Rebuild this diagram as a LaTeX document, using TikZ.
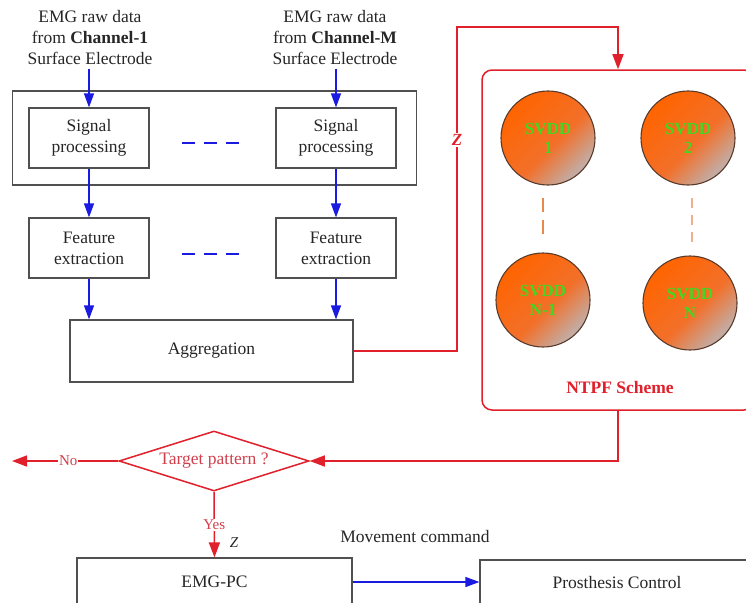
\documentclass[tikz,border=0pt]{standalone}
\usepackage{fontspec}
\setmainfont{Liberation Serif}
\usetikzlibrary{arrows.meta,shapes.geometric}
\definecolor{boxgray}{HTML}{505050}
\definecolor{myred}{HTML}{E0202A}
\definecolor{myblue}{HTML}{1A1AE0}
\definecolor{pinkred}{HTML}{D0404C}
\definecolor{svddgreen}{HTML}{44D622}
\definecolor{orng}{HTML}{FF6400}
\definecolor{orngmid}{HTML}{F2702A}
\definecolor{mytan}{HTML}{C4AAA0}
\definecolor{circedge}{HTML}{5A3A2A}
\definecolor{dashor}{HTML}{E8884A}
\definecolor{dashorl}{HTML}{F0B090}
\pgfdeclareverticalshading{svddshade}{100bp}{color(0bp)=(mytan); color(27bp)=(mytan); color(45bp)=(orngmid); color(75bp)=(orng); color(100bp)=(orng)}
\begin{document}
\begin{tikzpicture}[x=1pt,y=-1pt,
  font=\fontsize{17.5}{21}\selectfont, text=black!85,
  box/.style={draw=boxgray, line width=1.2pt, align=center, inner sep=0pt},
  bluearrow/.style={draw=myblue, line width=1.3pt, -{Triangle[length=14pt,width=10pt]}},
  redline/.style={draw=myred, line width=1.5pt},
  redarrow/.style={redline, -{Triangle[length=15pt,width=11pt]}},
  svdd/.style={circle, draw=circedge, line width=1.1pt, minimum size=94pt, inner sep=0pt,
    shading=svddshade, shading angle=45,
    font=\fontsize{17}{19}\selectfont\bfseries, text=svddgreen, align=center},
  lbl/.style={fill=white, inner sep=1pt, text=pinkred, font=\fontsize{15}{17}\selectfont}
]
\clip (0,0) rectangle (746,602);
\fill[white] (0,0) rectangle (746,602);

% inputs
\node[align=center] (in1) at (90,38) {EMG raw data\\from \textbf{Channel-1}\\Surface Electrode};
\node[align=center] (in2) at (335,38) {EMG raw data\\from \textbf{Channel-M}\\Surface Electrode};

% outer box
\node[box, minimum width=404, minimum height=94] (outer) at (214.5,138) {};

\node[box, minimum width=120, minimum height=60] (sp1) at (89,138) {Signal\\processing};
\node[box, minimum width=120, minimum height=60] (sp2) at (336,138) {Signal\\processing};
\node[box, minimum width=120, minimum height=60] (fe1) at (89,248) {Feature\\extraction};
\node[box, minimum width=120, minimum height=60] (fe2) at (336,248) {Feature\\extraction};
\node[box, minimum width=283, minimum height=62] (agg) at (211.5,351) {Aggregation};

\draw[myblue, line width=1.5pt, dash pattern=on 13pt off 9pt] (182,143) -- (240,143);
\draw[myblue, line width=1.5pt, dash pattern=on 13pt off 9pt] (182,254) -- (240,254);

\draw[bluearrow] (in1.south -| sp1.north) -- (sp1.north);
\draw[bluearrow] (in2.south -| sp2.north) -- (sp2.north);
\draw[bluearrow] (sp1.south) -- (fe1.north);
\draw[bluearrow] (sp2.south) -- (fe2.north);
\draw[bluearrow] (fe1.south) -- (fe1.south |- agg.north);
\draw[bluearrow] (fe2.south) -- (fe2.south |- agg.north);

% NTPF scheme
\node[draw=myred, line width=1.5pt, rounded corners=10pt, minimum width=272, minimum height=340] (ntpf) at (618,240) {};
\node[text=myred, font=\fontsize{17.5}{21}\selectfont\bfseries] (ntpflabel) at (620,388) {NTPF Scheme};

\node[svdd] (s1) at (548,138) {SVDD\\1};
\node[svdd] (s2) at (688,138) {SVDD\\2};
\node[svdd] (s3) at (543,300) {SVDD\\N-1};
\node[svdd] (s4) at (690,303) {SVDD\\N};
\draw[dashor, line width=1.5pt, dash pattern=on 14pt off 8pt] (543,198) -- (543,234);
\draw[dashorl, line width=1.2pt, dash pattern=on 10pt off 7pt] (692,198) -- (692,243);

\coordinate (c1) at (457,27);
\draw[redarrow] (agg.east) -| (c1) -| (ntpf.north);
\node[fill=white, inner sep=1pt, text=myred, font=\fontsize{17}{19}\selectfont\bfseries\itshape] (zlab) at (457,140) {Z};

% decision
\node[draw=myred, line width=1.5pt, diamond, aspect=3.2, minimum width=190, minimum height=60, inner sep=0pt, text=pinkred] (diam) at (214,461) {Target pattern ?};
\draw[redarrow] (ntpf.south) |- (diam.east);
\coordinate (noend) at (12,461);
\draw[redarrow] (diam.west) -- node[lbl, pos=0.47] {No} (noend);

% bottom
\node[box, minimum width=275, minimum height=48] (emgpc) at (214.5,582) {EMG-PC};
\node[box, minimum width=274, minimum height=46] (prost) at (617,583) {Prosthesis Control};
\draw[redarrow] (diam.south) -- node[lbl, pos=0.5] {Yes} (emgpc.north);
\node[font=\fontsize{15}{17}\selectfont\itshape] (zlab2) at (234,543) {Z};
\draw[bluearrow] (emgpc.east) -- (emgpc.east -| prost.west);
\node (mc) at (415,537) {Movement command};
\end{tikzpicture}
\end{document}
